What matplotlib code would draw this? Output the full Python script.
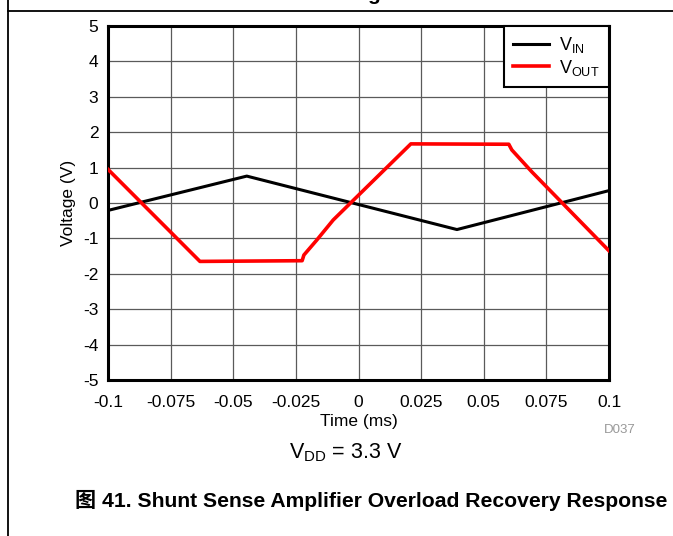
import matplotlib
matplotlib.use("Agg")
import matplotlib.pyplot as plt
from matplotlib.lines import Line2D

plt.rcParams['font.family'] = ['Liberation Sans', 'Noto Sans CJK SC', 'DejaVu Sans']
plt.rcParams['mathtext.fontset'] = 'custom'
plt.rcParams['mathtext.rm'] = 'Liberation Sans'
plt.rcParams['mathtext.it'] = 'Liberation Sans'
plt.rcParams['axes.unicode_minus'] = False

# Input triangle wave (V) vs time (ms)
vin_t = [-0.1, -0.0446, 0.0393, 0.1]
vin_v = [-0.21, 0.76, -0.75, 0.35]

# Amplifier output (V), clipping at the rails
vout_t = [-0.1, -0.0633, -0.0225, -0.0218, -0.0167, -0.0101, 0.0209, 0.0600, 0.0612, 0.0692, 0.1]
vout_v = [0.95, -1.65, -1.63, -1.47, -1.05, -0.48, 1.67, 1.66, 1.50, 0.88, -1.35]

xticks = [-0.1, -0.075, -0.05, -0.025, 0, 0.025, 0.05, 0.075, 0.1]
xtick_labels = ['-0.1', '-0.075', '-0.05', '-0.025', '0', '0.025', '0.05', '0.075', '0.1']
yticks = [-5, -4, -3, -2, -1, 0, 1, 2, 3, 4, 5]

W, H = 673, 536
fig = plt.figure(figsize=(W / 100, H / 100), dpi=100)
ax = fig.add_axes([108 / W, 1 - 380 / H, (609 - 108) / W, (380 - 26) / H])

ax.plot(vin_t, vin_v, color='black', lw=2.2, label=r'V$_{\mathregular{IN}}$', zorder=3)
ax.plot(vout_t, vout_v, color='#ff0000', lw=2.6, label=r'V$_{\mathregular{OUT}}$', zorder=4)

ax.set_xlim(-0.1, 0.1)
ax.set_ylim(-5, 5)
ax.set_xticks(xticks)
ax.set_xticklabels(xtick_labels)
ax.set_yticks(yticks)
ax.tick_params(length=0, labelsize=12.5)
ax.tick_params(axis='x', pad=10.5)
ax.tick_params(axis='y', pad=7)
ax.grid(True, color='#5a5a5a', lw=0.9)
ax.set_axisbelow(True)
for s in ax.spines.values():
    s.set_linewidth(2.2)
    s.set_color('black')

ax.set_xlabel('Time (ms)', fontsize=12.5, labelpad=3)
ax.set_ylabel('Voltage (V)', fontsize=12.5, labelpad=5)

leg = ax.legend(loc='upper right', fontsize=13, frameon=True, fancybox=False,
                borderaxespad=0, handlelength=2.0, handletextpad=0.6,
                labelspacing=0.15, borderpad=0.5)
leg.get_frame().set_edgecolor('black')
leg.get_frame().set_linewidth(1.5)
leg.get_frame().set_alpha(1)

fig.text(604 / W, 1 - 430 / H, 'D037', fontsize=9.5, color='#999999', ha='left', va='center')
fig.text(346 / W, 1 - 453 / H, r'V$_{\mathregular{DD}}$ = 3.3 V', fontsize=15.5, ha='center', va='center')
fig.text(75 / W, 1 - 500 / H, '图 41. Shunt Sense Amplifier Overload Recovery Response',
         fontsize=15.2, fontweight='bold', ha='left', va='center')
fig.text(373 / W, 1.0, 'g', fontsize=15, fontweight='bold', ha='center', va='baseline')

# page frame lines
fig.add_artist(Line2D([8 / W, 8 / W], [0, 1], color='black', lw=1.3, transform=fig.transFigure))
fig.add_artist(Line2D([8 / W, 1], [1 - 11 / H, 1 - 11 / H], color='black', lw=1.3, transform=fig.transFigure))

fig.savefig('out.png', dpi=100)
